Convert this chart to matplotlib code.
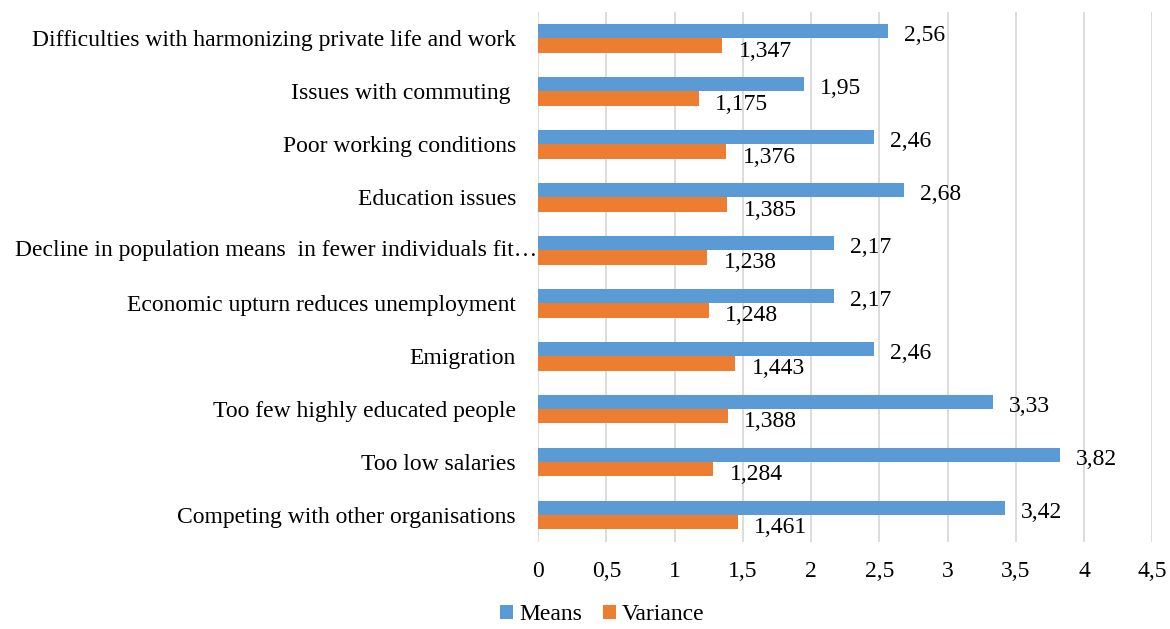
import matplotlib
matplotlib.use("Agg")
import matplotlib.pyplot as plt
import matplotlib.transforms as mtransforms
import numpy as np

categories = [
    "Difficulties with harmonizing private life and work",
    "Issues with commuting ",
    "Poor working conditions",
    "Education issues",
    "Decline in population means  in fewer individuals fit\u2026",
    "Economic upturn reduces unemployment",
    "Emigration",
    "Too few highly educated people",
    "Too low salaries",
    "Competing with other organisations",
]
means = [2.56, 1.95, 2.46, 2.68, 2.17, 2.17, 2.46, 3.33, 3.82, 3.42]
variance = [1.347, 1.175, 1.376, 1.385, 1.238, 1.248, 1.443, 1.388, 1.284, 1.461]
xticks = [0, 0.5, 1, 1.5, 2, 2.5, 3, 3.5, 4, 4.5]

plt.rcParams['font.family'] = ['Liberation Serif', 'DejaVu Serif']
FS = 17

fig = plt.figure(figsize=(11.7, 6.29), dpi=100)
ax = fig.add_axes([0.46, 0.139, 0.525, 0.842])

y = np.arange(len(categories))
h = 0.27
blue = '#5B9BD5'
orange = '#ED7D31'
ax.barh(y - h / 2, means, height=h, color=blue, label='Means', zorder=3)
ax.barh(y + h / 2, variance, height=h, color=orange, label='Variance', zorder=3)

def fmt(v):
    s = ('%g' % v)
    return s.replace('.', ',')

for yi, m, v in zip(y, means, variance):
    ax.annotate(fmt(m), (m, yi - h / 2), xytext=(11.5, -3), textcoords='offset points',
                va='center', ha='left', fontsize=FS)
    ax.annotate(fmt(v), (v, yi + h / 2), xytext=(12, -4), textcoords='offset points',
                va='center', ha='left', fontsize=FS)

ax.set_xlim(0, 4.5)
ax.set_ylim(len(categories) - 0.5, -0.5)
ax.set_yticks(y)
# long (truncated) label is drawn separately, ending at the axis like the reference
long_idx = 4
ax.set_yticklabels(['' if i == long_idx else c for i, c in enumerate(categories)], fontsize=FS)
trans = mtransforms.blended_transform_factory(ax.transAxes, ax.transData)
ax.text(-0.001, y[long_idx], categories[long_idx], transform=trans, ha='right',
        va='center', fontsize=FS)
ax.set_xticks(xticks)
ax.set_xticklabels([fmt(t) for t in xticks], fontsize=FS)
ax.tick_params(length=0)
ax.tick_params(axis='y', pad=16)
ax.tick_params(axis='x', pad=14)
for s in ax.spines.values():
    s.set_visible(False)
ax.grid(axis='x', color='#D9D9D9', linewidth=1.3, zorder=0)
ax.set_axisbelow(True)

fig.legend(loc='lower center', bbox_to_anchor=(0.515, -0.028), ncol=2, frameon=False,
           fontsize=FS, handlelength=0.55, handleheight=0.55, handletextpad=0.25,
           columnspacing=0.9)

fig.savefig('out.png', dpi=100)
